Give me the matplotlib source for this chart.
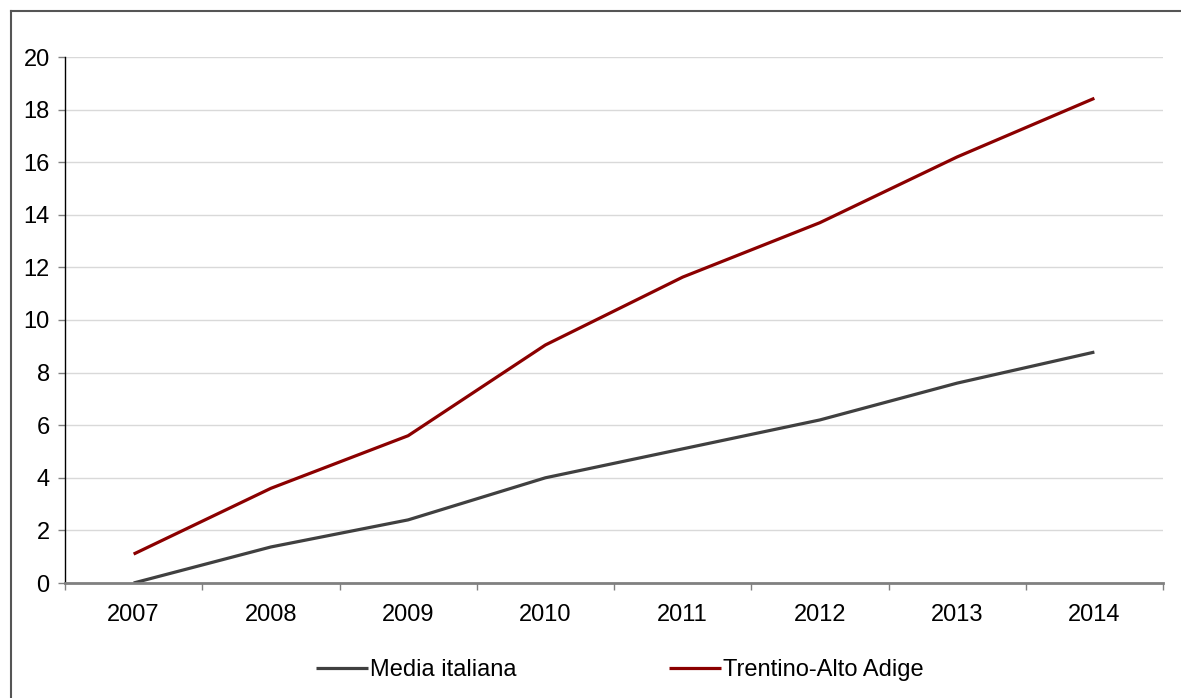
import numpy as np
import matplotlib
matplotlib.use("Agg")
import matplotlib.pyplot as plt
from matplotlib.lines import Line2D

plt.rcParams['font.family'] = ['Liberation Sans', 'DejaVu Sans']

years = ["2007", "2008", "2009", "2010", "2011", "2012", "2013", "2014"]
media_italiana = [0.0, 1.37, 2.4, 4.0, 5.1, 6.2, 7.6, 8.78]
trentino = [1.1, 3.6, 5.6, 9.05, 11.63, 13.7, 16.2, 18.43]

fig = plt.figure(figsize=(11.81, 6.98), dpi=100)
ax = fig.add_axes([65 / 1181, 1 - 583 / 698, (1163 - 65) / 1181, (583 - 57) / 698])

x = np.arange(len(years))
ax.plot(x, media_italiana, color="#404040", lw=2.3, label="Media italiana", solid_capstyle="butt")
ax.plot(x, trentino, color="#8B0000", lw=2.3, label="Trentino-Alto Adige", solid_capstyle="butt")

ax.set_xlim(-0.5, len(years) - 0.5)
ax.set_ylim(0, 20)
ax.set_yticks(np.arange(0, 21, 2))
ax.set_xticks(x)
ax.set_xticklabels(years)
ax.set_xticks(np.arange(-0.5, len(years)), minor=True)
ax.tick_params(axis="x", which="major", length=0, pad=15, labelsize=17)
ax.tick_params(axis="x", which="minor", length=5, color="#808080", width=1)
ax.tick_params(axis="y", length=5, color="#808080", width=1, labelsize=17, pad=6)

ax.grid(axis="y", color="#d9d9d9", lw=1)
ax.set_axisbelow(True)
for s in ["top", "right"]:
    ax.spines[s].set_visible(False)
ax.spines["left"].set_color("black")
ax.spines["left"].set_linewidth(1)
ax.spines["bottom"].set_color("#808080")
ax.spines["bottom"].set_linewidth(2)

# outer frame (left and top only visible)
fig.add_artist(Line2D([11 / 1181, 11 / 1181], [0, 1 - 11 / 698], color="#555555", lw=1.5))
fig.add_artist(Line2D([11 / 1181, 1], [1 - 11 / 698, 1 - 11 / 698], color="#555555", lw=1.5))

fig.legend(loc="center", bbox_to_anchor=(620 / 1181, 1 - 670 / 698), ncol=2, frameon=False,
           fontsize=17, handlelength=2.2, handletextpad=0.1, columnspacing=6.45)

fig.savefig("out.png", dpi=100)
